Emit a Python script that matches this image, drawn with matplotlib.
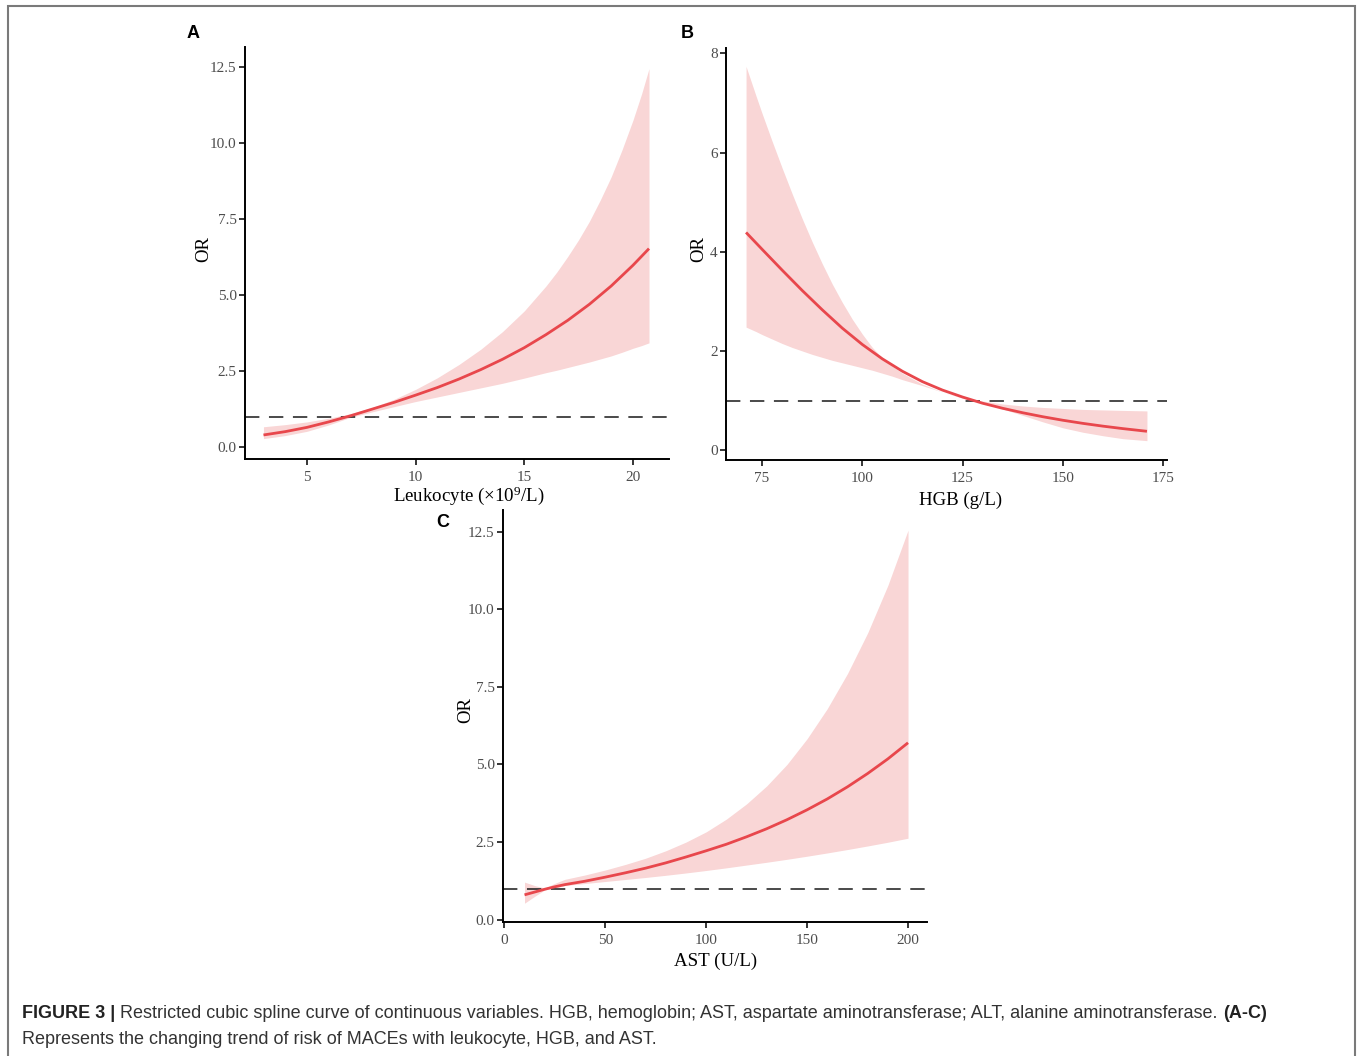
import matplotlib
matplotlib.use("Agg")
import matplotlib.pyplot as plt
from matplotlib.patches import Rectangle

W, H = 1358, 1056
plt.rcParams['mathtext.fontset'] = 'custom'
plt.rcParams['mathtext.rm'] = 'Liberation Serif'
plt.rcParams['mathtext.it'] = 'Liberation Serif:italic'

# ---------------- data ----------------
# Panel A: leukocyte
leuko_x = [3, 4, 5, 6, 7, 8, 9, 10, 11, 12, 13, 14, 15, 16, 17, 18, 19, 20, 20.74]
leuko_or = [0.40, 0.51, 0.65, 0.83, 1.03, 1.25, 1.47, 1.71, 1.96, 2.24, 2.55, 2.89, 3.27,
            3.70, 4.17, 4.70, 5.30, 5.98, 6.53]
leuko_band_x = [3, 4, 5, 6, 7, 8, 9, 10, 11, 12, 13, 14, 15, 16, 16.5, 17, 17.5, 18, 18.5,
                19, 19.5, 20, 20.4, 20.74]
leuko_hi = [0.67, 0.74, 0.83, 0.95, 1.10, 1.30, 1.57, 1.90, 2.28, 2.72, 3.22, 3.80, 4.48,
            5.30, 5.76, 6.27, 6.82, 7.43, 8.13, 8.89, 9.78, 10.75, 11.62, 12.45]
leuko_lo = [0.28, 0.38, 0.52, 0.73, 0.98, 1.16, 1.33, 1.50, 1.65, 1.80, 1.95, 2.10, 2.27,
            2.45, 2.53, 2.62, 2.71, 2.80, 2.90, 3.00, 3.12, 3.25, 3.34, 3.43]

# Panel B: HGB
hgb_x = [71, 75, 80, 85, 90, 95, 100, 105, 110, 115, 120, 125, 130, 135, 140, 145, 150,
         155, 160, 165, 171]
hgb_or = [4.39, 4.05, 3.63, 3.22, 2.83, 2.46, 2.13, 1.84, 1.59, 1.38, 1.21, 1.07, 0.945,
          0.843, 0.753, 0.673, 0.602, 0.539, 0.483, 0.433, 0.379]
hgb_band_x = [71, 73.5, 75, 77.5, 80, 82.5, 85, 87.5, 90, 92.5, 95, 97.5, 100, 102.5, 105,
              107.5, 110, 115, 120, 125, 130, 135, 140, 145, 150, 155, 160, 165, 171]
hgb_hi = [7.74, 7.14, 6.79, 6.23, 5.69, 5.17, 4.67, 4.20, 3.76, 3.35, 2.98, 2.64, 2.34,
          2.07, 1.86, 1.69, 1.55, 1.33, 1.17, 1.06, 0.99, 0.93, 0.89, 0.86, 0.84, 0.82,
          0.81, 0.80, 0.79]
hgb_lo = [2.48, 2.39, 2.33, 2.24, 2.15, 2.07, 2.00, 1.93, 1.87, 1.81, 1.76, 1.71, 1.66,
          1.61, 1.55, 1.49, 1.42, 1.30, 1.17, 1.05, 0.95, 0.83, 0.70, 0.57, 0.45, 0.36,
          0.29, 0.23, 0.19]

# Panel C: AST
ast_x = [10, 15, 20, 25, 30, 40, 50, 60, 70, 80, 90, 100, 110, 120, 130, 140, 150, 160,
         170, 180, 190, 200]
ast_or = [0.80, 0.89, 0.98, 1.06, 1.13, 1.24, 1.37, 1.51, 1.66, 1.83, 2.02, 2.22, 2.43,
          2.67, 2.93, 3.22, 3.54, 3.89, 4.28, 4.71, 5.18, 5.70]
ast_hi = [1.21, 1.10, 1.02, 1.17, 1.30, 1.44, 1.60, 1.78, 1.98, 2.22, 2.50, 2.83, 3.24,
          3.73, 4.31, 5.00, 5.83, 6.80, 7.93, 9.24, 10.77, 12.55]
ast_lo = [0.53, 0.75, 0.96, 1.02, 1.10, 1.165, 1.23, 1.295, 1.36, 1.43, 1.505, 1.585,
          1.67, 1.76, 1.85, 1.945, 2.045, 2.15, 2.26, 2.375, 2.495, 2.625]

leuko_ticks_x = [5, 10, 15, 20]
leuko_ticks_y = [0.0, 2.5, 5.0, 7.5, 10.0, 12.5]
hgb_ticks_x = [75, 100, 125, 150, 175]
hgb_ticks_y = [0, 2, 4, 6, 8]
ast_ticks_x = [0, 50, 100, 150, 200]
ast_ticks_y = [0.0, 2.5, 5.0, 7.5, 10.0, 12.5]

LINE = '#E8474C'
FILL = '#F9D6D6'
TICKC = '#4D4D4D'
SERIF = 'Liberation Serif'
SANS = 'Liberation Sans'
LAB = 13.6

fig = plt.figure(figsize=(W / 100, H / 100), dpi=100)


def add_ax(left, top, right, bottom):
    return fig.add_axes([left / W, 1 - bottom / H, (right - left) / W, (bottom - top) / H])


def style(ax, xt, yt, yfmt):
    for s in ['top', 'right']:
        ax.spines[s].set_visible(False)
    for s in ['left', 'bottom']:
        ax.spines[s].set_linewidth(1.4)
        ax.spines[s].set_color('black')
    ax.set_xticks(xt)
    ax.set_yticks(yt)
    ax.set_xticklabels([str(v) for v in xt])
    ax.set_yticklabels([yfmt.format(v) for v in yt])
    ax.tick_params(direction='out', length=4, width=1.1, color='black',
                   labelcolor=TICKC, labelsize=11, pad=2)
    ax.tick_params(axis='x', pad=4.5)
    for lab in ax.get_xticklabels() + ax.get_yticklabels():
        lab.set_fontfamily(SERIF)


def panel(ax, x, y, bx, lo, hi):
    ax.fill_between(bx, lo, hi, color=FILL, lw=0, zorder=1)
    ax.plot(x, y, color=LINE, lw=2.0, zorder=3, solid_capstyle='butt',
            solid_joinstyle='round')
    ax.axhline(1, color='#222222', lw=1.15, dashes=(9, 6), zorder=2)


def ftext(px, py, s, **kw):
    return fig.text(px / W, 1 - py / H, s, **kw)


# Panel A
axA = add_ax(245, 47, 669, 459)
panel(axA, leuko_x, leuko_or, leuko_band_x, leuko_lo, leuko_hi)
axA.set_xlim(2.15, 21.66)
axA.set_ylim(-0.39, 13.16)
style(axA, leuko_ticks_x, leuko_ticks_y, '{:.1f}')
ftext(204, 249, 'OR', rotation=90, ha='center', va='center', family=SERIF, fontsize=LAB)
ftext(469, 496, 'Leukocyte (×10$^{9}$/L)', ha='center', va='center', family=SERIF,
      fontsize=LAB)
ftext(193, 34, 'A', ha='center', va='center', family=SANS, weight='bold', fontsize=13)

# Panel B
axB = add_ax(726, 48, 1167, 460)
panel(axB, hgb_x, hgb_or, hgb_band_x, hgb_lo, hgb_hi)
axB.set_xlim(66.0, 176.0)
axB.set_ylim(-0.2, 8.11)
style(axB, hgb_ticks_x, hgb_ticks_y, '{:d}')
ftext(699, 249, 'OR', rotation=90, ha='center', va='center', family=SERIF, fontsize=LAB)
ftext(961, 500, 'HGB (g/L)', ha='center', va='center', family=SERIF, fontsize=LAB)
ftext(687, 34, 'B', ha='center', va='center', family=SANS, weight='bold', fontsize=13)

# Panel C
axC = add_ax(503, 510, 927, 922)
panel(axC, ast_x, ast_or, ast_x, ast_lo, ast_hi)
axC.set_xlim(-0.66, 209.4)
axC.set_ylim(-0.075, 13.2)
style(axC, ast_ticks_x, ast_ticks_y, '{:.1f}')
ftext(466, 710, 'OR', rotation=90, ha='center', va='center', family=SERIF, fontsize=LAB)
ftext(716, 961, 'AST (U/L)', ha='center', va='center', family=SERIF, fontsize=LAB)
ftext(443, 522, 'C', ha='center', va='center', family=SANS, weight='bold', fontsize=13)

# frame
fig.patches.append(Rectangle((8 / W, -0.01), (1355 - 8) / W, 1 - 6 / H + 0.01,
                             transform=fig.transFigure, fill=False,
                             edgecolor='#7A7A7A', lw=1.5))

# caption
fig.canvas.draw()
renderer = fig.canvas.get_renderer()


def caption_line(py, pieces):
    x = 22
    for s, bold, col in pieces:
        t = ftext(x, py, s, ha='left', va='center', family=SANS, fontsize=13.0,
                  weight='bold' if bold else 'normal', color=col)
        bb = t.get_window_extent(renderer)
        x += bb.width


caption_line(1014, [
    ('FIGURE 3 |', True, '#222222'),
    (' Restricted cubic spline curve of continuous variables. HGB, hemoglobin; AST, '
     'aspartate aminotransferase; ALT, alanine aminotransferase. ', False, '#333333'),
    ('(A-C)', True, '#222222'),
])
caption_line(1039, [
    ('Represents the changing trend of risk of MACEs with leukocyte, HGB, and AST.',
     False, '#333333'),
])

fig.savefig('out.png', dpi=100)
